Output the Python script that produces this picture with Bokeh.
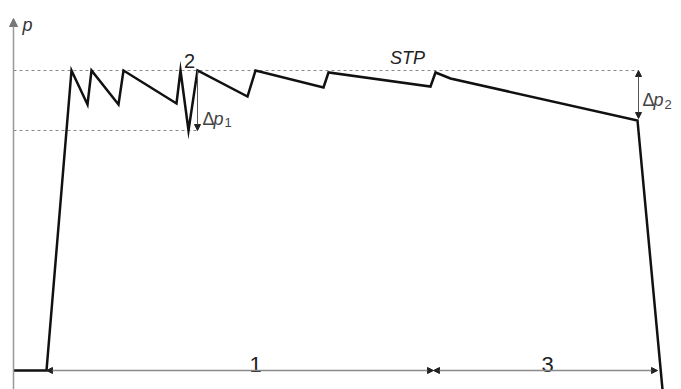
from bokeh.plotting import figure
from bokeh.models import Range1d, Arrow, NormalHead, ColumnDataSource
from bokeh.core.properties import value
from bokeh.embed import file_html
from bokeh.resources import INLINE

# pressure curve (time, pressure)
time = [0, 33, 58, 74, 78, 105, 110, 163, 167, 175, 184, 234, 242, 310, 315, 417, 422, 437, 624, 649, 652]
pressure = [0, 0, 300, 266, 300, 266, 300, 267, 300, 240, 300, 274, 300, 283, 298, 284, 298, 292, 250, -19, -50]

p_max = 300          # upper dashed level
p_min1 = 240         # lower dashed level (delta p1)
p_end = 252          # pressure at end of STP (delta p2)
t_start = 33         # start of zone 1
t_mid = 420          # boundary between zones 1 and 3
t_end = 644          # end of zone 3
t_dp1 = 184
t_dp2 = 625

labels_main = ["2", "STP", "1", "3"]

p = figure(width=681, height=389, output_backend="svg", toolbar_location=None,
           x_range=Range1d(-13, 668), y_range=Range1d(-19, 370),
           min_border=0, outline_line_color=None)
p.axis.visible = False
p.grid.visible = False

gray = "#8a8a8a"
dark = "#333333"

# dashed reference levels
p.segment(x0=[0, 0], y0=[p_max, p_min1], x1=[t_dp2, t_dp1], y1=[p_max, p_min1],
          line_color=gray, line_width=1.2, line_dash="3 3")

# y axis with arrow
p.add_layout(Arrow(x_start=0, y_start=-30, x_end=0, y_end=352, line_color="#999999",
                   line_width=1.5,
                   end=NormalHead(size=8, fill_color="#777777", line_color="#777777")))

# dimension line along the bottom
p.add_layout(Arrow(x_start=t_mid, y_start=0, x_end=t_start, y_end=0, line_color=gray,
                   line_width=1.5,
                   start=NormalHead(size=6, fill_color="#222", line_color="#222"),
                   end=NormalHead(size=6, fill_color="#222", line_color="#222")))
p.add_layout(Arrow(x_start=t_mid, y_start=0, x_end=t_end, y_end=0, line_color=gray,
                   line_width=1.5,
                   start=NormalHead(size=6, fill_color="#222", line_color="#222"),
                   end=NormalHead(size=6, fill_color="#222", line_color="#222")))

# delta p arrows
p.add_layout(Arrow(x_start=t_dp1, y_start=p_max, x_end=t_dp1, y_end=p_min1, line_color="#555",
                   line_width=1,
                   end=NormalHead(size=6, fill_color="#222", line_color="#222")))
p.add_layout(Arrow(x_start=t_dp2, y_start=p_end, x_end=t_dp2, y_end=p_max, line_color="#555",
                   line_width=1,
                   start=NormalHead(size=6, fill_color="#222", line_color="#222"),
                   end=NormalHead(size=6, fill_color="#222", line_color="#222")))

# pressure curve
p.line(time, pressure, line_color="#111111", line_width=2.5, line_join="miter")

font = value("Liberation Sans")

# axis label p
p.text(x=[9], y=[346], text=["p"], text_font=font, text_font_size="18px",
       text_font_style="italic", text_color=dark, text_baseline="alphabetic")

# main labels
src = ColumnDataSource(dict(x=[176, 394, 242, 534], y=[310, 313, 6, 6], text=labels_main,
                            size=["20px", "18px", "22px", "22px"],
                            style=["normal", "italic", "normal", "normal"]))
p.text(x="x", y="y", text="text", source=src, text_font=font, text_font_size="size",
       text_font_style="style", text_color="#222222", text_align="center",
       text_baseline="alphabetic")

# delta p1 / delta p2
for (xd, yb, sub, ysub) in [(189, 252, "1", 248), (629, 271, "2", 266)]:
    p.text(x=[xd], y=[yb], text=["Δ"], text_font=font, text_font_size="18px",
           text_color="#444444", text_baseline="alphabetic")
    p.text(x=[xd + 11], y=[yb], text=["p"], text_font=font, text_font_size="18px",
           text_font_style="italic", text_color="#444444", text_baseline="alphabetic")
    p.text(x=[xd + 22], y=[ysub], text=[sub], text_font=font, text_font_size="13px",
           text_color="#444444", text_baseline="alphabetic")

open("out.html", "w").write(file_html(p, INLINE))
